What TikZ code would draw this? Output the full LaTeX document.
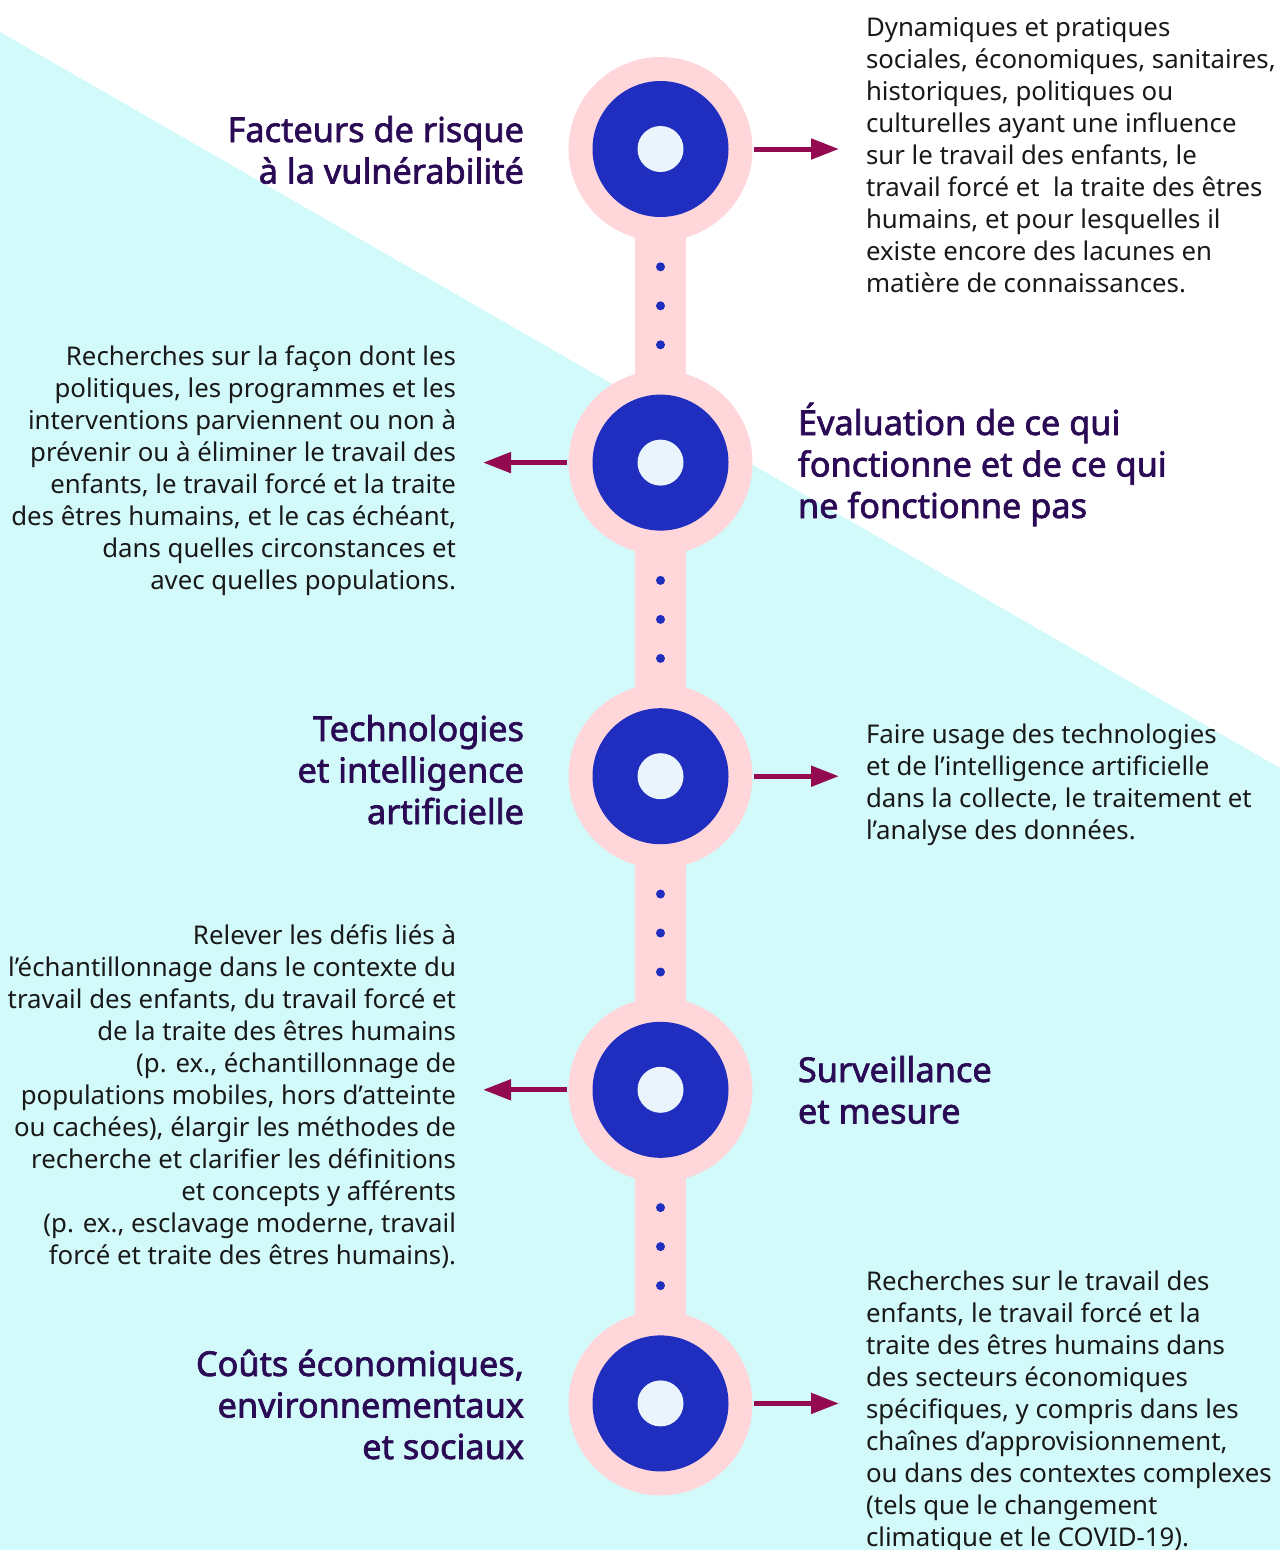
\documentclass[tikz,border=0pt]{standalone}
\usepackage{fontspec}
\setmainfont{Noto Sans}[AutoFakeBold=2]
\definecolor{sky}{RGB}{211,250,250}
\definecolor{blush}{RGB}{255,215,219}
\definecolor{royal}{RGB}{31,46,190}
\definecolor{pale}{RGB}{234,244,253}
\definecolor{plum}{RGB}{147,10,80}
\definecolor{ink}{RGB}{43,10,85}
\usetikzlibrary{
  arrows.meta,     % triangle arrow heads
  positioning      % relative placement
}
\tikzset{
    x=1pt, y=-1pt,
    every node/.style = {
        inner sep=0pt,
        outer sep=0pt
    },
    ring/.append style = {circle, fill=blush, minimum size=184pt},
    disc/.append style = {circle, fill=royal, minimum size=136pt},
    hub/.append style = {circle, fill=pale, minimum size=46pt},
    dot/.append style = {circle, fill=royal, minimum size=9pt},
    heading/.append style = {font=\fontsize{34.3}{41.5}\selectfont\bfseries, text=ink},
    body/.append style = {font=\fontsize{25.8}{32}\selectfont, text=black!90},
    link/.append style = {->, draw=plum, line width=5pt, shorten >=27pt, shorten <=1.5pt},
    rail/.append style = {draw=blush, line width=51pt},
    >={Triangle[length=28pt,width=20pt]}  % arrow type
}
\pgfdeclarelayer{background}
\pgfsetlayers{background,main}

\begin{document}
\begin{tikzpicture}
  \useasboundingbox (0,0) rectangle (1280,1550);

  %% stops
  \node [ring] (FR)  at (660.5,149)    {};
  \node [ring] (EV)  at (660.5,462.6)  {};
  \node [ring] (TIA) at (660.5,776.2)  {};
  \node [ring] (SM)  at (660.5,1089.8) {};
  \node [ring] (CES) at (660.5,1403.4) {};

  \node [disc] (FRd)  at (FR)  {};
  \node [disc] (EVd)  at (EV)  {};
  \node [disc] (TIAd) at (TIA) {};
  \node [disc] (SMd)  at (SM)  {};
  \node [disc] (CESd) at (CES) {};

  \node [hub] (FRh)  at (FR)  {};
  \node [hub] (EVh)  at (EV)  {};
  \node [hub] (TIAh) at (TIA) {};
  \node [hub] (SMh)  at (SM)  {};
  \node [hub] (CESh) at (CES) {};

  %% dots on the rail
  \node [dot] (d11) at (660.5,266.8)  {};
  \node [dot] (d12) at (660.5,305.8)  {};
  \node [dot] (d13) at (660.5,344.8)  {};
  \node [dot] (d21) at (660.5,580.4)  {};
  \node [dot] (d22) at (660.5,619.4)  {};
  \node [dot] (d23) at (660.5,658.4)  {};
  \node [dot] (d31) at (660.5,894.0)  {};
  \node [dot] (d32) at (660.5,933.0)  {};
  \node [dot] (d33) at (660.5,972.0)  {};
  \node [dot] (d41) at (660.5,1207.6) {};
  \node [dot] (d42) at (660.5,1246.6) {};
  \node [dot] (d43) at (660.5,1285.6) {};

  %% Facteurs de risque (base = last line)
  \node [heading, anchor=base east, align=right] (FRtitle) at (524,183.5)
    {Facteurs de risque\\à la vulnérabilité};
  \node [body, anchor=base west, align=left] (FRtext) at (866,292)
    {Dynamiques et pratiques\\
     sociales, économiques, sanitaires,\\
     historiques, politiques ou\\
     culturelles ayant une influence\\
     sur le travail des enfants, le\\
     travail forcé et\ \ la traite des êtres\\
     humains, et pour lesquelles il\\
     existe encore des lacunes en\\
     matière de connaissances.};
  \draw [link] (FR.east) to (FR.east -| FRtext.west);

  %% Evaluation
  \node [heading, anchor=base west, align=left] (EVtitle) at (798,518)
    {Évaluation de ce qui\\fonctionne et de ce qui\\ne fonctionne pas};
  \node [body, anchor=base east, align=right] (EVtext) at (456,589)
    {Recherches sur la façon dont les\\
     politiques, les programmes et les\\
     interventions parviennent ou non à\\
     prévenir ou à éliminer le travail des\\
     enfants, le travail forcé et la traite\\
     des êtres humains, et le cas échéant,\\
     dans quelles circonstances et\\
     avec quelles populations.};
  \draw [link] (EV.west) to (EV.west -| EVtext.east);

  %% Technologies
  \node [heading, anchor=base east, align=right] (TIAtitle) at (524,824)
    {Technologies\\et intelligence\\artificielle};
  \node [body, anchor=base west, align=left] (TIAtext) at (866,839)
    {Faire usage des technologies\\
     et de l’intelligence artificielle\\
     dans la collecte, le traitement et\\
     l’analyse des données.};
  \draw [link] (TIA.east) to (TIA.east -| TIAtext.west);

  %% Surveillance
  \node [heading, anchor=base west, align=left] (SMtitle) at (798,1123.5)
    {Surveillance\\et mesure};
  \node [body, anchor=base east, align=right] (SMtext) at (456,1264)
    {Relever les défis liés à\\
     l’échantillonnage dans le contexte du\\
     travail des enfants, du travail forcé et\\
     de la traite des êtres humains\\
     (p. ex., échantillonnage de\\
     populations mobiles, hors d’atteinte\\
     ou cachées), élargir les méthodes de\\
     recherche et clarifier les définitions\\
     et concepts y afférents\\
     (p. ex., esclavage moderne, travail\\
     forcé et traite des êtres humains).};
  \draw [link] (SM.west) to (SM.west -| SMtext.east);

  %% Couts
  \node [heading, anchor=base east, align=right] (CEStitle) at (524,1459)
    {Coûts économiques,\\environnementaux\\et sociaux};
  \node [body, anchor=base west, align=left] (CEStext) at (866,1546)
    {Recherches sur le travail des\\
     enfants, le travail forcé et la\\
     traite des êtres humains dans\\
     des secteurs économiques\\
     spécifiques, y compris dans les\\
     chaînes d’approvisionnement,\\
     ou dans des contextes complexes\\
     (tels que le changement\\
     climatique et le COVID-19).};
  \draw [link] (CES.east) to (CES.east -| CEStext.west);

  %% backdrop and rail
  \begin{pgfonlayer}{background}
    \fill [sky] (0,32) -- (1280,768) -- (1280,1550) -- (0,1550) -- cycle;
    \draw [rail] (FR.center) to (CES.center);
  \end{pgfonlayer}

\end{tikzpicture}
\end{document}
